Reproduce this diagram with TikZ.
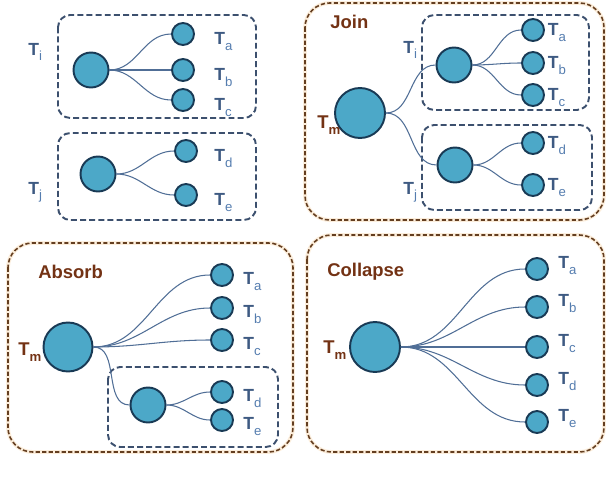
\documentclass[tikz,border=0pt]{standalone}
\usepackage{fontspec}
\setmainfont{Liberation Sans}
\usetikzlibrary{positioning}
\definecolor{ballfill}{RGB}{76,168,200}
\definecolor{rim}{RGB}{25,58,85}
\definecolor{slate}{RGB}{62,90,130}
\definecolor{subblue}{RGB}{85,125,175}
\definecolor{rust}{RGB}{115,50,20}
\definecolor{wire}{RGB}{80,110,150}
\definecolor{halo}{RGB}{252,238,220}
\definecolor{opline}{RGB}{100,62,32}
\definecolor{grpline}{RGB}{60,80,110}
\newcommand{\tname}[1]{\textbf{T}\raisebox{-0.55ex}{\fontsize{7.5}{8}\selectfont\color{subblue}#1}}
\newcommand{\mname}{\textbf{T}\raisebox{-0.55ex}{\fontsize{7.5}{8}\selectfont\bfseries m}}
\tikzset{
  hub/.style={circle,draw=rim,fill=ballfill,line width=1.1pt,minimum size=#1,inner sep=0pt},
  hub/.default=7mm,
  leafc/.style={circle,draw=rim,fill=ballfill,line width=1.1pt,minimum size=4.4mm,inner sep=0pt},
  grp/.style={draw=grpline,line width=1.1pt,dash pattern=on 3.4pt off 1.8pt,rounded corners=7pt},
  op/.style={draw=opline,line width=0.9pt,dash pattern=on 2.4pt off 1.3pt,rounded corners=14pt,
    preaction={draw=halo,line width=2.2pt,solid}},
  lbl/.style={font=\fontsize{10}{12}\selectfont,text=slate,inner sep=0pt},
  mlbl/.style={font=\fontsize{10.5}{12}\selectfont,text=rust,inner sep=0pt,anchor=west},
  ttl/.style={font=\fontsize{10.5}{12}\selectfont\bfseries,text=rust,inner sep=0pt,anchor=west},
  link/.style={draw=wire,line width=0.6pt},
}
\begin{document}
\begin{tikzpicture}[x=0.02cm,y=-0.02cm]
  \useasboundingbox (0,0) rectangle (608,497);
  % before: two separate trees
  \draw[grp] (58,15) rectangle (256,118);
  \draw[grp] (58,133) rectangle (256,220);
  \node[hub] (i1) at (91,70) {};
  \node[hub] (j1) at (98,174) {};
  \node[leafc] (a1) at (183,34) {};
  \node[leafc] (b1) at (183,70) {};
  \node[leafc] (c1) at (183,100) {};
  \node[leafc] (d1) at (186,151) {};
  \node[leafc] (e1) at (186,195) {};
  \foreach \n in {a,b,c} \draw[link] (i1.east) to[out=0,in=180] (\n1.west);
  \foreach \n in {d,e} \draw[link] (j1.east) to[out=0,in=180] (\n1.west);
  \foreach \n in {a,b,c} \node[lbl,right=0.38cm of \n1,yshift=-0.15cm] (t\n1) {\tname{\n}};
  \foreach \n in {d,e} \node[lbl,right=0.32cm of \n1,yshift=-0.15cm] (t\n1) {\tname{\n}};
  \node[lbl,anchor=west] (ti1) at (28,52) {\tname{i}};
  \node[lbl,anchor=west] (tj1) at (28,192) {\tname{j}};

  % join
  \draw[op] (305,3) rectangle (604,220);
  \draw[grp] (422,15) rectangle (589,110);
  \draw[grp] (422,125) rectangle (592,210);
  \node[ttl] (join) at (330,22) {Join};
  \node[hub=1cm] (m2) at (360,113) {};
  \node[hub] (i2) at (454,65) {};
  \node[hub] (j2) at (455,165) {};
  \node[leafc] (a2) at (533,30) {};
  \node[leafc] (b2) at (533,63) {};
  \node[leafc] (c2) at (533,95) {};
  \node[leafc] (d2) at (533,143) {};
  \node[leafc] (e2) at (533,185) {};
  \draw[link] (m2.east) to[out=0,in=180] (i2.west);
  \draw[link] (m2.east) to[out=0,in=180] (j2.west);
  \foreach \n in {a,b,c} \draw[link] (i2.east) to[out=0,in=180] (\n2.west);
  \foreach \n in {d,e} \draw[link] (j2.east) to[out=0,in=180] (\n2.west);
  \foreach \n in {a,b,c,d,e} \node[lbl,right=0.05cm of \n2,yshift=-0.05cm] (t\n2) {\tname{\n}};
  \node[lbl,anchor=west] (ti2) at (403,50) {\tname{i}};
  \node[lbl,anchor=west] (tj2) at (403,192) {\tname{j}};
  \node[mlbl] (tm2) at (317,125) {\mname};

  % absorb
  \draw[op] (8,243) rectangle (293,452);
  \draw[grp] (108,367) rectangle (278,447);
  \node[ttl] (absorb) at (38,272) {Absorb};
  \node[hub=0.98cm] (m3) at (68,347) {};
  \node[hub] (j3) at (148,405) {};
  \node[leafc] (a3) at (222,275) {};
  \node[leafc] (b3) at (222,308) {};
  \node[leafc] (c3) at (222,340) {};
  \node[leafc] (d3) at (222,392) {};
  \node[leafc] (e3) at (222,420) {};
  \foreach \n in {a,b,c,j} \draw[link] (m3.east) to[out=0,in=180] (\n3.west);
  \foreach \n in {d,e} \draw[link] (j3.east) to[out=0,in=180] (\n3.west);
  \foreach \n in {a,b,c,d,e} \node[lbl,right=0.18cm of \n3,yshift=-0.13cm] (t\n3) {\tname{\n}};
  \node[mlbl] (tm3) at (18,352) {\mname};

  % collapse
  \draw[op] (307,235) rectangle (604,452);
  \node[ttl] (collapse) at (327,272) {Collapse};
  \node[hub=1cm] (m4) at (375,347) {};
  \node[leafc] (a4) at (537,269) {};
  \node[leafc] (b4) at (537,307) {};
  \node[leafc] (c4) at (537,347) {};
  \node[leafc] (d4) at (537,385) {};
  \node[leafc] (e4) at (537,422) {};
  \foreach \n in {a,b,c,d,e} \draw[link] (m4.east) to[out=0,in=180] (\n4.west);
  \foreach \n in {a,b,c,d,e} \node[lbl,right=0.18cm of \n4,yshift=0.07cm] (t\n4) {\tname{\n}};
  \node[mlbl] (tm4) at (323,350) {\mname};
\end{tikzpicture}
\end{document}
